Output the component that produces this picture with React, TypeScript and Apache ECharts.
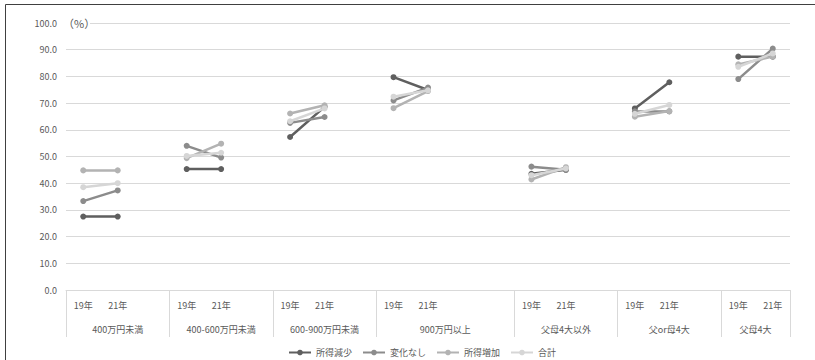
import React, { useEffect, useRef } from "react";
import * as echarts from "echarts";

const groups = ["400万円未満", "400-600万円未満", "600-900万円未満", "900万円以上", "父母4大以外", "父or母4大", "父母4大"];
const years = ["19年", "21年"];
const blanksAfter = [1, 1, 1, 2, 1, 1, 0];
const seriesNames = ["所得減少", "変化なし", "所得増加", "合計"];
const seriesColors = ["#5f5f5f", "#8c8c8c", "#b3b3b3", "#d6d6d6"];

// 7 groups x (19年, 21年)
const decrease = [27.5, 27.5, 45.3, 45.3, 57.3, 68.6, 79.7, 74.9, 43.5, 45.0, 68.0, 77.8, 87.4, 87.4];
const noChange = [33.3, 37.3, 54.0, 49.6, 62.6, 64.8, 71.0, 75.8, 46.2, 45.0, 66.9, 66.9, 79.0, 90.4];
const increase = [44.8, 44.8, 49.4, 54.8, 66.1, 69.2, 68.1, 74.5, 41.4, 46.0, 64.9, 67.0, 84.5, 87.4];
const total = [38.5, 40.0, 50.2, 51.4, 63.2, 68.0, 72.4, 74.8, 43.0, 45.5, 66.0, 69.3, 83.6, 88.6];

const seriesValues = [decrease, noChange, increase, total];

function buildSlots() {
  const cats: string[] = [];
  groups.forEach((g, gi) => {
    years.forEach((y) => cats.push(y));
    for (let k = 0; k < blanksAfter[gi]; k++) cats.push("");
  });
  return cats;
}

function buildSeriesData(vals: number[]) {
  const out: (number | null)[] = [];
  groups.forEach((g, gi) => {
    out.push(vals[gi * 2]);
    out.push(vals[gi * 2 + 1]);
    for (let k = 0; k < blanksAfter[gi]; k++) out.push(null);
  });
  return out;
}

function buildGroupAxis() {
  const slotsPerGroup = groups.map((g, gi) => years.length + blanksAfter[gi]);
  const totalSlots = slotsPerGroup.reduce((a, b) => a + b, 0);
  const n = totalSlots * 2 + 1;
  const data: string[] = new Array(n).fill("");
  const boundaries = new Set<number>();
  let pos = 0;
  boundaries.add(0);
  groups.forEach((g, gi) => {
    const w = slotsPerGroup[gi] * 2;
    data[pos + w / 2] = g;
    pos += w;
    boundaries.add(pos);
  });
  return { data, boundaries, centers: new Set(data.map((d, i) => (d ? i : -1)).filter((i) => i >= 0)) };
}

export default function App() {
  const ref = useRef<HTMLDivElement>(null);
  useEffect(() => {
    if (!ref.current) return;
    const chart = echarts.init(ref.current, undefined, { renderer: "svg" });
    const cats = buildSlots();
    const ga = buildGroupAxis();
    const font = "'Noto Sans CJK JP', 'Noto Sans', sans-serif";
    chart.setOption({
      animation: false,
      textStyle: { fontFamily: font },
      grid: { left: 66, right: 25, top: 23, bottom: 70 },
      legend: {
        left: 283,
        top: 343,
        itemWidth: 22,
        itemHeight: 7,
        itemGap: 10,
        data: seriesNames,
        textStyle: { fontSize: 9, color: "#595959", fontFamily: font },
      },
      xAxis: [
        {
          type: "category",
          data: cats,
          boundaryGap: true,
          axisLine: { show: true, lineStyle: { color: "#d9d9d9", width: 1 } },
          axisTick: { show: false },
          axisLabel: { interval: 0, fontSize: 9, color: "#595959", margin: 11, fontFamily: font },
        },
        {
          type: "category",
          data: ga.data,
          boundaryGap: false,
          position: "bottom",
          offset: 0,
          axisLine: { show: false },
          axisTick: {
            show: true,
            length: 47,
            interval: (idx: number) => ga.boundaries.has(idx),
            lineStyle: { color: "#d9d9d9", width: 1 },
          },
          axisLabel: {
            interval: (idx: number) => ga.centers.has(idx),
            fontSize: 9,
            color: "#595959",
            margin: 35,
            fontFamily: font,
          },
        },
      ],
      yAxis: {
        type: "value",
        min: 0,
        max: 100,
        interval: 10,
        axisLine: { show: false },
        axisTick: { show: false },
        axisLabel: { formatter: (v: number) => v.toFixed(1), fontSize: 9, color: "#595959", margin: 9, fontFamily: font },
        splitLine: { lineStyle: { color: "#d9d9d9", width: 1 } },
      },
      series: seriesNames.map((name, i) => ({
        name,
        type: "line",
        xAxisIndex: 0,
        data: buildSeriesData(seriesValues[i]),
        connectNulls: false,
        symbol: "circle",
        symbolSize: 6,
        lineStyle: { color: seriesColors[i], width: 2.5 },
        itemStyle: { color: seriesColors[i] },
        z: 2 + i,
      })),
      graphic: [
        { type: "rect", shape: { x: 62, y: 15, width: 28, height: 16 }, style: { fill: "#fff" }, z: 10 },
        {
          type: "text",
          x: 63,
          y: 23,
          style: { text: "（%）", fill: "#595959", font: `11px ${font}`, verticalAlign: "middle" },
          z: 11,
        },
        { type: "line", shape: { x1: 5.5, y1: 4.5, x2: 815, y2: 4.5 }, style: { stroke: "#404040", lineWidth: 1 }, z: 12 },
        { type: "line", shape: { x1: 5.5, y1: 4.5, x2: 5.5, y2: 360 }, style: { stroke: "#404040", lineWidth: 1 }, z: 12 },
      ],
    });
    return () => chart.dispose();
  }, []);
  return <div ref={ref} style={{ width: 815, height: 360, position: "absolute", left: 0, top: 0 }} />;
}
